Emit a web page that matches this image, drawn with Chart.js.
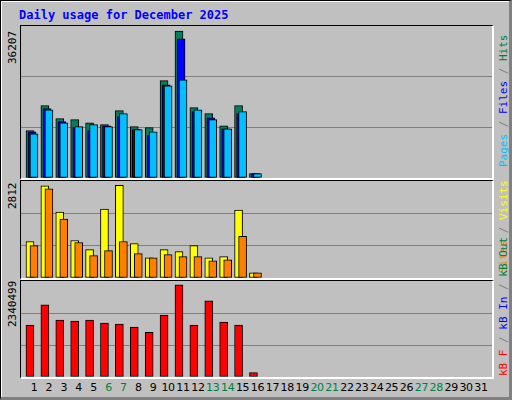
<!DOCTYPE html>
<html><head><meta charset="utf-8">
<script src="https://cdn.jsdelivr.net/npm/chart.js@4"></script>
<style>
body{margin:0;background:#fff}
#w{position:absolute;left:0;top:0;width:508px;height:396px;background:#c0c0c0;border-left:1px solid #000;border-top:1px solid #000;border-right:3px solid #808080;border-bottom:3px solid #808080;box-shadow:inset 1px 1px 0 #fff;overflow:hidden}
.p{position:absolute;left:19px;width:471px;border-left:1px solid #000;border-top:1px solid #000;border-right:2px solid #fff;border-bottom:2px solid #fff}
canvas{position:absolute;left:0;top:0}
.t{position:absolute;font-family:"DejaVu Sans Mono",monospace;white-space:nowrap}
.r{transform-origin:0 0;transform:rotate(-90deg)}
.x{position:absolute;top:380px;font-family:"DejaVu Sans",sans-serif;font-size:11px;letter-spacing:-0.3px;width:20px;text-align:center}
</style></head><body>
<div id="w">
<div class="t" style="left:18px;top:7px;color:#0000ff;font-weight:bold;font-size:12px">Daily usage for December 2025</div>
<div class="p" style="top:24px;height:152px"><canvas id="c1" width="471" height="152"></canvas></div>
<div class="p" style="top:179px;height:97px"><canvas id="c2" width="471" height="97"></canvas></div>
<div class="p" style="top:279px;height:96px"><canvas id="c3" width="471" height="96"></canvas></div>
<div class="t r" style="left:5px;top:63px;font-size:11px">36207</div>
<div class="t r" style="left:5px;top:208px;font-size:11px">2812</div>
<div class="t r" style="left:5px;top:326px;font-size:11px">2340499</div>
<div class="t r" style="left:496px;top:166px;font-size:11px"><span style="color:#00c0ff">Pages</span><span style="color:#808080"> / </span><span style="color:#0000ff">Files</span><span style="color:#808080"> / </span><span style="color:#008040">Hits</span></div>
<div class="t r" style="left:496px;top:272px;font-size:11px"><span style="color:#ff8000">Sites</span><span style="color:#808080"> / </span><span style="color:#ffff00">Visits</span></div>
<div class="t r" style="left:496px;top:375px;font-size:11px"><span style="color:#ff0000">kB F</span><span style="color:#808080"> / </span><span style="color:#0000ff">kB In</span><span style="color:#808080"> / </span><span style="color:#008040">kB Out</span></div>
<div id="xl"></div>
</div>
<script>
const days=[1,2,3,4,5,6,7,8,9,10,11,12,13,14,15,16];
const dayLabels=["1","2","3","4","5","6","7","8","9","10","11","12","13","14","15","16","17","18","19","20","21","22","23","24","25","26","27","28","29","30","31"];
const weekendDays=[6,7,13,14,20,21,27,28];
const hits=[11650,17810,14610,14360,13620,13130,16580,12640,12390,23970,36207,17320,15840,12880,17810,1060];
const files=[11400,17070,13870,12560,11650,12880,15100,11900,10420,22980,34310,16330,14850,12140,15840,1060];
const pages=[10910,16820,13620,12640,13130,12640,15840,11900,11400,22730,24210,16820,14360,12140,16330,1060];
const visits=[1108,2802,2001,1139,862,2094,2812,1047,616,862,800,985,616,647,2063,154];
const sites=[985,2709,1786,1078,677,831,1108,739,616,708,647,647,523,554,1262,154];
const kbytes=[1315000,1828000,1443000,1418000,1443000,1367000,1341000,1264000,1136000,1572000,2340499,1315000,1930000,1392000,1315000,111000];

const xl=document.getElementById('xl');
dayLabels.forEach((l,i)=>{const d=document.createElement('div');d.className='x';d.style.left=(33+i*14.9-10)+'px';d.style.color=weekendDays.includes(i+1)?'#008040':'#000';d.textContent=l;xl.appendChild(d);});

function pts(arr,off){return arr.map((v,i)=>({x:days[i]+off,y:v}));}
function ds(arr,off,col,w){return{data:pts(arr,off),backgroundColor:col,borderColor:'#000',borderWidth:1,barThickness:w,borderSkipped:false};}
function mk(id,sets,max){
  new Chart(document.getElementById(id),{type:'bar',data:{datasets:sets},
  options:{responsive:false,animation:false,events:[],layout:{padding:0},
   plugins:{legend:{display:false},tooltip:{enabled:false}},
   datasets:{bar:{grouped:false}},
   scales:{x:{type:'linear',min:0.128,max:31.74,offset:false,bounds:'ticks',display:false},
    y:{min:0,max:max,ticks:{display:false,stepSize:max/3},border:{display:false},
     grid:{drawTicks:false,tickLength:0,color:c=>(c.index===0||c.index===3)?'rgba(0,0,0,0)':'#808080'}}}}});
}
mk('c1',[ds(pages,0,'#00c0ff',8),ds(files,-0.13,'#0000ff',8),ds(hits,-0.27,'#008060',8)],37440);
mk('c2',[ds(sites,0,'#ff8000',8),ds(visits,-0.27,'#ffff00',8)],2945);
mk('c3',[ds(kbytes,-0.27,'#ff0000',8)],2435000);
</script>
</body></html>
